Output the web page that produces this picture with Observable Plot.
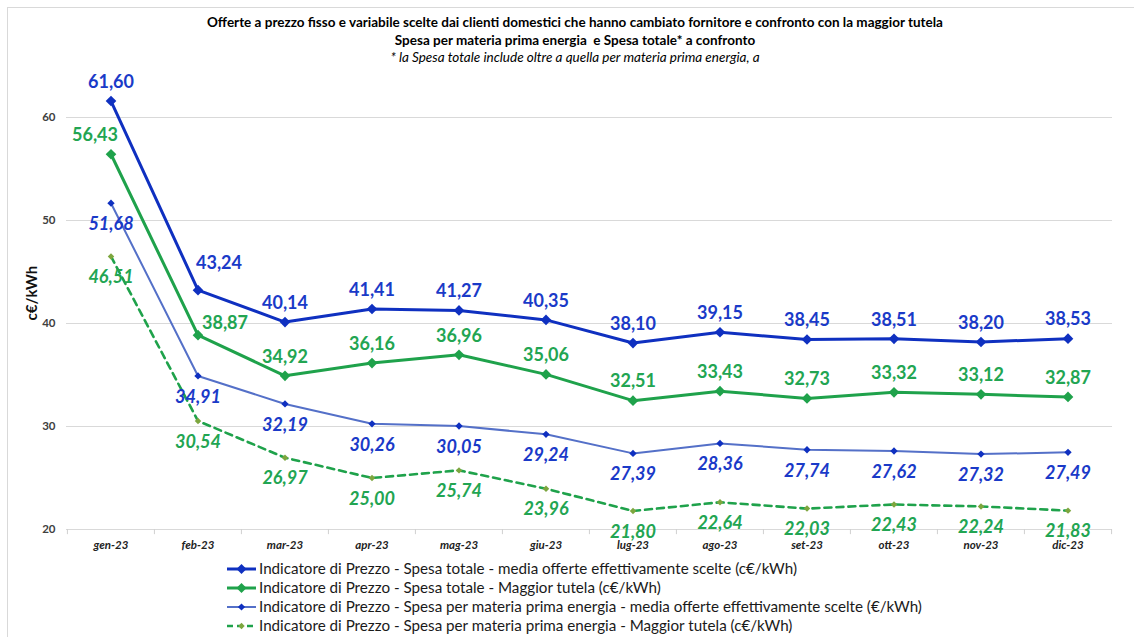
<!DOCTYPE html>
<html>
<head>
<meta charset="utf-8">
<script src="https://cdn.jsdelivr.net/npm/d3@7"></script>
<script src="https://cdn.jsdelivr.net/npm/@observablehq/plot@0.6"></script>
<style>
  html, body { margin: 0; padding: 0; background: #fff; }
  #wrap { position: relative; width: 1134px; height: 637px; overflow: hidden; font-family: Lato, "Open Sans", sans-serif; }
  #frame { position: absolute; left: 7px; top: 7px; width: 1140px; height: 700px; border-top: 1px solid #d9d9d9; border-left: 1px solid #d9d9d9; }
  #title { position: absolute; left: 0; top: 14px; width: 1150px; text-align: center; color: #000; }
  #title div { height: 17.5px; line-height: 17.5px; }
  .t1 { font-weight: 700; font-size: 13.5px; }
  .t3 { font-style: italic; font-size: 13.5px; }
  #chart { position: absolute; left: 0; top: 70px; }
  #legend { position: absolute; left: 227px; top: 559px; font-size: 15.2px; color: #1a1a1a; }
  .row { height: 19px; line-height: 19px; display: flex; align-items: center; white-space: nowrap; }
  .row svg { margin-right: 2px; }
</style>
</head>
<body>
<div id="wrap">
  <div id="frame"></div>
  <div id="title">
    <div class="t1">Offerte a prezzo fisso e variabile scelte dai clienti domestici che hanno cambiato fornitore e confronto con la maggior tutela</div>
    <div class="t1">Spesa per materia prima energia&nbsp; e Spesa totale* a confronto</div>
    <div class="t3">* la Spesa totale include oltre a quella per materia prima energia, a</div>
  </div>
  <div id="chart"></div>
  <div id="legend"></div>
</div>
<script>
// ---- data ----
const months = ["gen-23","feb-23","mar-23","apr-23","mag-23","giu-23","lug-23","ago-23","set-23","ott-23","nov-23","dic-23"];
const totaleOfferte = [61.60, 43.24, 40.14, 41.41, 41.27, 40.35, 38.10, 39.15, 38.45, 38.51, 38.20, 38.53];
const totaleTutela  = [56.43, 38.87, 34.92, 36.16, 36.96, 35.06, 32.51, 33.43, 32.73, 33.32, 33.12, 32.87];
const materiaOfferte = [51.68, 34.91, 32.19, 30.26, 30.05, 29.24, 27.39, 28.36, 27.74, 27.62, 27.32, 27.49];
const materiaTutela  = [46.51, 30.54, 26.97, 25.00, 25.74, 23.96, 21.80, 22.64, 22.03, 22.43, 22.24, 21.83];
const yTicks = [20, 30, 40, 50, 60];
const seriesNames = [
  "Indicatore di Prezzo - Spesa totale - media offerte effettivamente scelte (c€/kWh)",
  "Indicatore di Prezzo - Spesa totale - Maggior tutela (c€/kWh)",
  "Indicatore di Prezzo - Spesa per materia prima energia - media offerte effettivamente scelte (€/kWh)",
  "Indicatore di Prezzo - Spesa per materia prima energia - Maggior tutela (c€/kWh)"
];

const BLUE = "#0f30c0", BLUE_LBL = "#1a3ac8", BLUE_L = "#5470c8";
const GREEN = "#1fa24b", GREEN_LBL = "#22a552", GREEN_MK = "#7da63e";

const mk = (vals) => months.map((m, i) => ({m, v: vals[i], label: vals[i].toFixed(2).replace(".", ",")}));
const s1 = mk(totaleOfferte), s2 = mk(totaleTutela), s3 = mk(materiaOfferte), s4 = mk(materiaTutela);

const W = 1134, H = 485, ML = 66, MR = 22;
const bw = (W - ML - MR) / months.length;
const lblFont = {fontSize: 18, fontWeight: 700, fontFamily: "Lato, 'Open Sans', sans-serif"};

const chart = Plot.plot({
  width: W, height: H,
  marginLeft: ML, marginRight: MR, marginTop: 47, marginBottom: 26,
  style: {fontFamily: "Lato, 'Open Sans', sans-serif", overflow: "visible"},
  x: {type: "band", domain: months, padding: 0, label: null},
  y: {domain: [20, 60], label: null},
  marks: [
    Plot.ruleY(yTicks, {stroke: "#d9d9d9", strokeWidth: 1.2}),
    Plot.ruleX(months, {x: d => d, y1: 20, y2: 19.5, dx: -bw / 2, stroke: "#d0d0d0"}),
    Plot.ruleX([months[months.length - 1]], {x: d => d, y1: 20, y2: 19.5, dx: bw / 2, stroke: "#d0d0d0"}),
    Plot.axisY({ticks: yTicks, tickSize: 0, tickPadding: 11, fontSize: 11.5, fontWeight: 700, fill: "#404040", label: null}),
    Plot.axisX({tickSize: 0, tickPadding: 11, fontSize: 11.5, fontWeight: 700, fontStyle: "italic", fill: "#222", label: null}),
    Plot.text(["c€/kWh"], {frameAnchor: "left", dx: -34, dy: -3, rotate: -90, fontSize: 15, fontWeight: 700, fill: "#111"}),
    // series 4 dashed
    Plot.line(s4, {x: "m", y: "v", stroke: GREEN, strokeWidth: 2.6, strokeDasharray: "7,5"}),
    Plot.dot(s4, {x: "m", y: "v", symbol: "diamond2", r: 2.9, fill: GREEN_MK, stroke: "none"}),
    // series 3
    Plot.line(s3, {x: "m", y: "v", stroke: BLUE_L, strokeWidth: 2}),
    Plot.dot(s3, {x: "m", y: "v", symbol: "diamond2", r: 3.3, fill: BLUE, stroke: "none"}),
    // series 2
    Plot.line(s2, {x: "m", y: "v", stroke: GREEN, strokeWidth: 3}),
    Plot.dot(s2, {x: "m", y: "v", symbol: "diamond2", r: 4.8, fill: GREEN, stroke: "none"}),
    // series 1
    Plot.line(s1, {x: "m", y: "v", stroke: BLUE, strokeWidth: 3}),
    Plot.dot(s1, {x: "m", y: "v", symbol: "diamond2", r: 4.8, fill: BLUE, stroke: "none"}),
    // labels
    Plot.text(s1.filter(d => d.m !== "feb-23"), {x: "m", y: "v", text: "label", dy: -19, fill: BLUE_LBL, ...lblFont}),
    Plot.text(s1.filter(d => d.m === "feb-23"), {x: "m", y: "v", text: "label", dy: -27, dx: 21, fill: BLUE_LBL, ...lblFont}),
    Plot.text(s2.filter(d => d.m !== "feb-23" && d.m !== "gen-23"), {x: "m", y: "v", text: "label", dy: -19, fill: GREEN_LBL, ...lblFont}),
    Plot.text(s2.filter(d => d.m === "gen-23"), {x: "m", y: "v", text: "label", dy: -19, dx: -16, fill: GREEN_LBL, ...lblFont}),
    Plot.text(s2.filter(d => d.m === "feb-23"), {x: "m", y: "v", text: "label", dy: -12, dx: 27, fill: GREEN_LBL, ...lblFont}),
    Plot.text(s3, {x: "m", y: "v", text: "label", dy: 21, fill: BLUE_LBL, fontStyle: "italic", ...lblFont}),
    Plot.text(s4, {x: "m", y: "v", text: "label", dy: 21, fill: GREEN_LBL, fontStyle: "italic", ...lblFont})
  ]
});
document.getElementById("chart").appendChild(chart);

// legend
const legendStyles = [
  {stroke: BLUE, sw: 3, dash: null, mfill: BLUE, r: 5},
  {stroke: GREEN, sw: 3, dash: null, mfill: GREEN, r: 5},
  {stroke: BLUE_L, sw: 2, dash: null, mfill: BLUE, r: 3.6},
  {stroke: GREEN, sw: 2.6, dash: "6,4", mfill: GREEN_MK, r: 3.2}
];
const leg = document.getElementById("legend");
seriesNames.forEach((name, i) => {
  const st = legendStyles[i];
  const row = document.createElement("div");
  row.className = "row";
  const svg = d3.create("svg").attr("width", 30).attr("height", 12);
  svg.append("line").attr("x1", 0).attr("x2", 29).attr("y1", 6).attr("y2", 6)
    .attr("stroke", st.stroke).attr("stroke-width", st.sw).attr("stroke-dasharray", st.dash);
  svg.append("path").attr("d", `M${14.5},${6 - st.r}L${14.5 + st.r},6L${14.5},${6 + st.r}L${14.5 - st.r},6Z`).attr("fill", st.mfill);
  row.appendChild(svg.node());
  const span = document.createElement("span");
  span.textContent = name;
  row.appendChild(span);
  leg.appendChild(row);
});
</script>
</body>
</html>
